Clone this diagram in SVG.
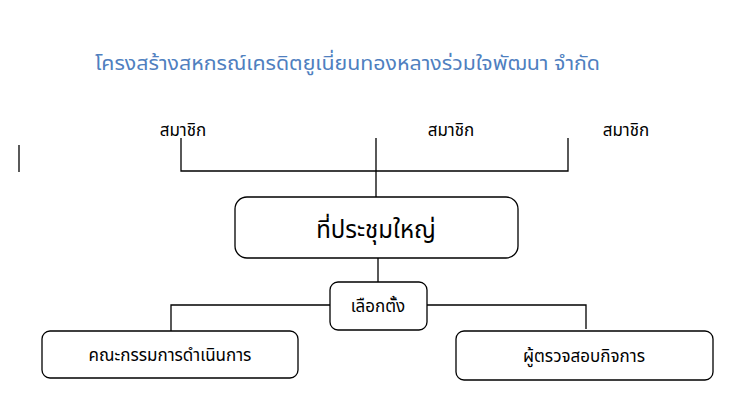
<svg xmlns="http://www.w3.org/2000/svg" width="744" height="401" viewBox="0 0 744 401">
<style>
text{font-family:"Noto Sans Thai","Noto Sans","DejaVu Sans",sans-serif;fill:#000}
.box{fill:#fff;stroke:#000;stroke-width:1.3}
.ln{stroke:#000;stroke-width:1.3;fill:none}
</style>
<rect width="744" height="401" fill="#fff"/>
<text x="95" y="70" font-size="20" style="fill:#4f7fbf" textLength="505" lengthAdjust="spacingAndGlyphs">โครงสร้างสหกรณ์เครดิตยูเนี่ยนทองหลางร่วมใจพัฒนา จำกัด</text>
<g id="m1"><text x="183" y="136" font-size="17" text-anchor="middle">สมาชิก</text></g>
<g id="m2"><text x="451" y="136" font-size="17" text-anchor="middle">สมาชิก</text></g>
<g id="m3"><text x="626" y="136" font-size="17" text-anchor="middle">สมาชิก</text></g>
<line class="ln" x1="19" y1="145" x2="19" y2="172"/>
<g id="connectors">
<path class="ln" d="M181 138V171H568V138M376 138V197M378 258V282M171 331V305H330M427 305H586V329"/>
</g>
<g id="assembly"><rect class="box" x="235" y="197" width="283" height="61" rx="12"/><text x="376" y="238" font-size="24" text-anchor="middle">ที่ประชุมใหญ่</text></g>
<g id="elect"><rect class="box" x="330" y="282" width="97" height="48" rx="8"/><text x="378" y="312" font-size="17" text-anchor="middle">เลือกตั้ง</text></g>
<g id="board"><rect class="box" x="42" y="331" width="256" height="47" rx="8"/><text x="170" y="361" font-size="17" text-anchor="middle">คณะกรรมการดำเนินการ</text></g>
<g id="audit"><rect class="box" x="456" y="331" width="257" height="49" rx="8"/><text x="584" y="362" font-size="17" text-anchor="middle">ผู้ตรวจสอบกิจการ</text></g>
</svg>
